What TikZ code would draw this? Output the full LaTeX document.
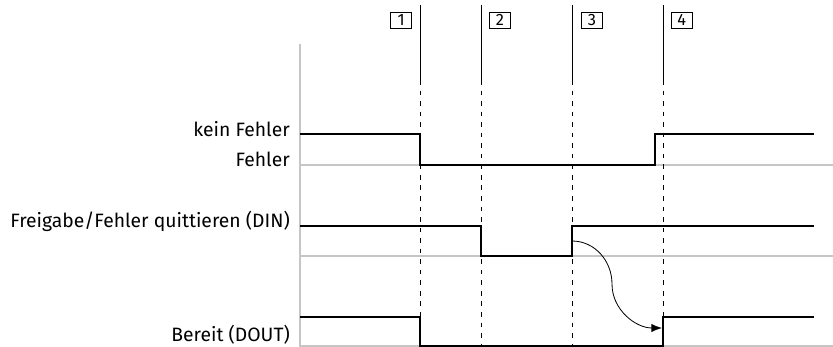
\documentclass[tikz,border=0pt]{standalone}
\usepackage{fontspec}
\setmainfont{Fira Sans}
\usetikzlibrary{arrows.meta}
\begin{document}
\begin{tikzpicture}[x=0.03cm,y=-0.03cm,>={Latex[length=9pt,width=7pt]},
    signal/.style={line width=2pt,line join=miter},
    grid/.style={gray!45,line width=1.2pt},
    event/.style={line width=0.7pt},
    label/.style={anchor=base east,inner sep=0pt,font=\fontsize{16.5}{19}\selectfont},
    numbox/.style={draw,line width=0.6pt,inner sep=0pt,minimum width=0.63cm,minimum height=0.48cm,font=\fontsize{14}{16}\selectfont}]
        \useasboundingbox (0,0) rectangle (833,347);

        % draw the axis and the low levels
        \draw[grid] (300,44) -- (300,347);
        \foreach \y in {165,256,346}
                \draw[grid] (300,\y) -- (833,\y);

        % event lines with the numbers
        \foreach \i/\x in {1/420,2/481,3/572,4/663} {
                \coordinate (top\i) at (\x,5);
                \coordinate (mid\i) at (\x,80);
                \coordinate (bot\i) at (\x,347);
                \draw[event] (top\i) -- (mid\i);
                \draw[event,dash pattern=on 4pt off 5pt] (mid\i) -- (bot\i);
        }
        \node[numbox,anchor=north east] (n1) at (412,12) {1};
        \node[numbox,anchor=north west] (n2) at (489,12) {2};
        \node[numbox,anchor=north west] (n3) at (581,12) {3};
        \node[numbox,anchor=north west] (n4) at (671,12) {4};

        % signal names
        \node[label] (kein)    at (290,137) {kein Fehler};
        \node[label] (fehler)  at (290,167) {Fehler};
        \node[label] (din)     at (290,228) {Freigabe/Fehler quittieren (DIN)};
        \node[label] (dout)    at (290,342) {Bereit (DOUT)};

        % the signals
        \draw[signal] (300,134) -- (420,134) -- (420,165) -- (655,165) -- (655,134) -- (814,134);
        \draw[signal] (300,226) -- (481,226) -- (481,256) -- (572,256) -- (572,226) -- (814,226);
        \draw[signal] (300,317) -- (420,317) -- (420,346) -- (663,346) -- (663,317) -- (814,317);

        % DIN makes DOUT ready
        \coordinate (ack) at (572,241);
        \coordinate (turn) at (612,284);
        \coordinate (rdy) at (662,328);
        \draw[->,line width=0.7pt] (ack) to[out=0,in=90] (turn) to[out=-90,in=180] (rdy);
\end{tikzpicture}
\end{document}
